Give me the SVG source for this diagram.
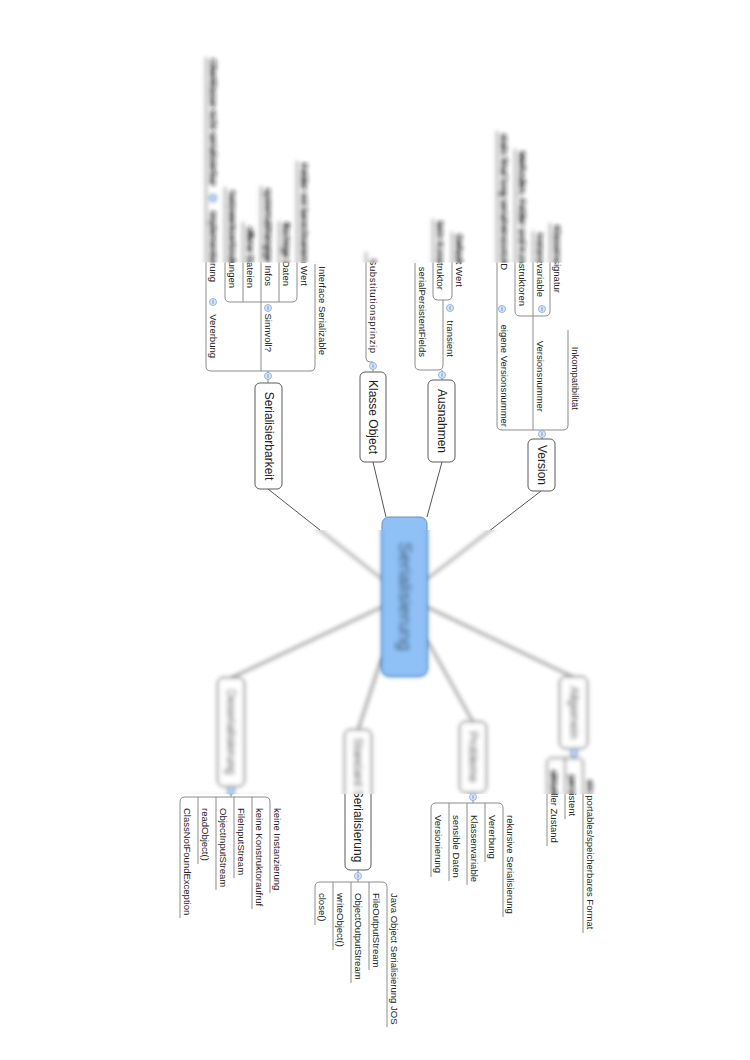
<svg xmlns="http://www.w3.org/2000/svg" xmlns:xlink="http://www.w3.org/1999/xlink" width="750" height="1060" viewBox="0 0 750 1060">
<defs>
<style>
.ln{fill:none;stroke:#8c8c8c;stroke-width:1}
.cn{fill:none;stroke:#555;stroke-width:1}
.box{fill:#fff;stroke:#5a5a5a;stroke-width:1}
.cbox{fill:#8fc1f7;stroke:#6d8fb8;stroke-width:1}
.t{font-family:"Liberation Sans",Arial,sans-serif;font-size:9.5px;fill:#222}
.tm{font-family:"Liberation Sans",Arial,sans-serif;font-size:12px;fill:#222}
.tc{font-family:"Liberation Sans",Arial,sans-serif;font-size:18px;fill:#2d3a50}
.tg circle{fill:#dbe7f7;stroke:#7ea6d8;stroke-width:0.8}
.tg path{stroke:#4f7fc0;stroke-width:0.8}
</style>
<filter id="blur" x="-10%" y="-10%" width="120%" height="120%"><feGaussianBlur stdDeviation="2.3"/><feComponentTransfer><feFuncA type="linear" slope="1.7"/></feComponentTransfer></filter>
<clipPath id="blurClip"><rect x="170" y="0" width="440" height="262.5"/><rect x="170" y="530" width="440" height="264"/></clipPath>
<g id="tgl" class="tg"><circle r="3.5"/><path d="M0,-1.8V1.8"/></g>
</defs>
<rect width="750" height="1060" fill="#fff"/>
<g id="diagram">
<g id="connectors">
<path class="cn" d="M268,489L382,579M373,462L386,517M442,462L427,517M541,491L427,579M382,607L231,678M382,657L358,730M427,640L473,722M427,607L573,677"/>
<path class="ln" d="M268,383V371M373,372V362H370Q366,362 366,358V252M442,380V370M542,439V430M231,786V797M358,870V882M473,792V803M574,748V758"/>
<path class="ln" d="M206,57V366Q206,371 211,371H310Q315,371 315,366V264M261,371V186"/>
<path class="ln" d="M225,187V297Q225,302 230,302H292Q297,302 297,297V161M243,302V222M279,302V221"/>
<path class="ln" d="M415,263V365Q415,370 420,370H438Q443,370 443,365V300"/>
<path class="ln" d="M433,219V295Q433,300 438,300H447Q452,300 452,295V232"/>
<path class="ln" d="M497,131V425Q497,430 502,430H563Q568,430 568,425V330M533,430V231"/>
<path class="ln" d="M515,149V311Q515,316 520,316H545Q550,316 550,311V223"/>
<path class="ln" d="M180,918V802Q180,797 185,797H265Q270,797 270,802V893M198,797V864M216,797V890M234,797V878M252,797V909"/>
<path class="ln" d="M315,925V887Q315,882 320,882H382Q387,882 387,887V1027M333,882V950M351,882V983M369,882V970"/>
<path class="ln" d="M431,877V808Q431,803 436,803H498Q503,803 503,808V917M449,803V881M467,803V885M485,803V862"/>
<path class="ln" d="M547,846V763Q547,758 552,758H578Q583,758 583,763V933M565,758V819"/>
</g>
<g id="node-center"><rect class="cbox" x="382" y="517" width="45" height="159" rx="7"/><text class="tc" text-anchor="middle" transform="translate(398.5,596.5) rotate(90)">Serialisierung</text></g>
<g id="node-serialisierbarkeit"><rect class="box" x="255" y="383" width="27" height="106" rx="5"/><text class="tm" text-anchor="middle" transform="translate(264.5,436) rotate(90)">Serialisierbarkeit</text><use xlink:href="#tgl" x="268" y="376"/></g>
<g id="node-interface"><text class="t" text-anchor="end" transform="translate(319,355) rotate(90)">Interface Serializable</text></g>
<g id="node-sinnvoll"><text class="t" text-anchor="end" transform="translate(265,352) rotate(90)">Sinnvoll?</text><use xlink:href="#tgl" x="268" y="308"/></g>
<g id="node-wert"><text class="t" text-anchor="end" transform="translate(301,286) rotate(90)">Felder mit berechnetem Wert</text></g>
<g id="node-daten"><text class="t" text-anchor="end" transform="translate(283,286) rotate(90)">flüchtige Daten</text></g>
<g id="node-infos"><text class="t" text-anchor="end" transform="translate(265,286) rotate(90)">systemabhängige Infos</text></g>
<g id="node-dateien"><text class="t" text-anchor="end" transform="translate(247,288) rotate(90)">offene Dateien</text></g>
<g id="node-verbindungen"><text class="t" text-anchor="end" transform="translate(229,288) rotate(90)">Netzwerkverbindungen</text></g>
<g id="node-vererbung1"><text class="t" text-anchor="end" transform="translate(210,358) rotate(90)">Vererbung</text><use xlink:href="#tgl" x="213" y="302"/></g>
<g id="node-implementierung"><text class="t" text-anchor="end" transform="translate(210,282) rotate(90)">Implementierung</text><use xlink:href="#tgl" x="213" y="198"/></g>
<g id="node-oberklasse"><text class="t" text-anchor="end" transform="translate(210,186) rotate(90)">Oberklasse nicht serialisierbar</text></g>
<g id="node-klasse-object"><rect class="box" x="360" y="372" width="26" height="90" rx="5"/><text class="tm" text-anchor="middle" transform="translate(369,417) rotate(90)">Klasse Object</text><use xlink:href="#tgl" x="373" y="366"/></g>
<g id="node-substitution"><text class="t" text-anchor="end" textLength="94" transform="translate(370,353) rotate(90)">Substitutionsprinzip</text></g>
<g id="node-ausnahmen"><rect class="box" x="428" y="380" width="27" height="82" rx="5"/><text class="tm" text-anchor="middle" transform="translate(437.5,421) rotate(90)">Ausnahmen</text><use xlink:href="#tgl" x="442" y="375"/></g>
<g id="node-spf"><text class="t" text-anchor="end" transform="translate(419,357) rotate(90)">serialPersistentFields</text></g>
<g id="node-transient"><text class="t" text-anchor="end" transform="translate(447,357) rotate(90)">transient</text><use xlink:href="#tgl" x="450" y="308"/></g>
<g id="node-konstruktor"><text class="t" text-anchor="end" transform="translate(437,290) rotate(90)">kein Konstruktor</text></g>
<g id="node-defaultwert"><text class="t" text-anchor="end" transform="translate(456,287) rotate(90)">Default Wert</text></g>
<g id="node-version"><rect class="box" x="528" y="439" width="27" height="52" rx="5"/><text class="tm" text-anchor="middle" transform="translate(537.5,465) rotate(90)">Version</text><use xlink:href="#tgl" x="542" y="434"/></g>
<g id="node-inkompatibilitaet"><text class="t" text-anchor="end" transform="translate(572,410) rotate(90)">Inkompatibilität</text></g>
<g id="node-versionsnummer"><text class="t" text-anchor="end" transform="translate(537,412) rotate(90)">Versionsnummer</text><use xlink:href="#tgl" x="542" y="309"/></g>
<g id="node-klassensignatur"><text class="t" text-anchor="end" transform="translate(554,293) rotate(90)">Klassensignatur</text></g>
<g id="node-instanzvariable"><text class="t" text-anchor="end" transform="translate(537,297) rotate(90)">Instanzvariable</text></g>
<g id="node-konstruktoren"><text class="t" text-anchor="end" transform="translate(519,306) rotate(90)">Methoden, Felder und Konstruktoren</text></g>
<g id="node-eigene"><text class="t" text-anchor="end" transform="translate(501,427) rotate(90)">eigene Versionsnummer</text><use xlink:href="#tgl" x="502" y="309"/></g>
<g id="node-uid"><text class="t" text-anchor="end" transform="translate(501,270) rotate(90)">static final long serialVersionUID</text></g>
<g id="node-deserialisierung"><rect class="box" x="218" y="678" width="26" height="108" rx="5"/><text class="tm" text-anchor="middle" transform="translate(227,732) rotate(90)">Deserialisierung</text><use xlink:href="#tgl" x="231" y="791"/></g>
<g id="node-d1"><text class="t" transform="translate(274,808) rotate(90)">keine Instanzierung</text></g>
<g id="node-d2"><text class="t" transform="translate(256,808) rotate(90)">keine Konstruktoraufruf</text></g>
<g id="node-d3"><text class="t" transform="translate(238,808) rotate(90)">FileInputStream</text></g>
<g id="node-d4"><text class="t" transform="translate(220,808) rotate(90)">ObjectInputStream</text></g>
<g id="node-d5"><text class="t" transform="translate(202,808) rotate(90)">readObject()</text></g>
<g id="node-d6"><text class="t" transform="translate(184,808) rotate(90)">ClassNotFoundException</text></g>
<g id="node-standard"><rect class="box" x="345" y="730" width="26" height="140" rx="5"/><text class="tm" text-anchor="middle" transform="translate(354,800) rotate(90)">Standard Serialisierung</text><use xlink:href="#tgl" x="358" y="876"/></g>
<g id="node-s1"><text class="t" transform="translate(391,893) rotate(90)">Java Object Serialisierung JOS</text></g>
<g id="node-s2"><text class="t" transform="translate(373,893) rotate(90)">FileOutputStream</text></g>
<g id="node-s3"><text class="t" transform="translate(355,893) rotate(90)">ObjectOutputStream</text></g>
<g id="node-s4"><text class="t" transform="translate(337,893) rotate(90)">writeObject()</text></g>
<g id="node-s5"><text class="t" transform="translate(319,893) rotate(90)">close()</text></g>
<g id="node-probleme"><rect class="box" x="460" y="722" width="26" height="70" rx="5"/><text class="tm" text-anchor="middle" transform="translate(469,757) rotate(90)">Probleme</text><use xlink:href="#tgl" x="473" y="797"/></g>
<g id="node-p1"><text class="t" transform="translate(507,815) rotate(90)">rekursive Serialisierung</text></g>
<g id="node-p2"><text class="t" transform="translate(489,815) rotate(90)">Vererbung</text></g>
<g id="node-p3"><text class="t" transform="translate(471,815) rotate(90)">Klassenvariable</text></g>
<g id="node-p4"><text class="t" transform="translate(453,815) rotate(90)">sensible Daten</text></g>
<g id="node-p5"><text class="t" transform="translate(435,815) rotate(90)">Versionierung</text></g>
<g id="node-allgemein"><rect class="box" x="560" y="677" width="27" height="71" rx="5"/><text class="tm" text-anchor="middle" transform="translate(569.5,712.5) rotate(90)">Allgemein</text><use xlink:href="#tgl" x="574" y="753"/></g>
<g id="node-a1"><text class="t" transform="translate(587,780) rotate(90)">ein portables/speicherbares Format</text></g>
<g id="node-a2"><text class="t" transform="translate(569,775) rotate(90)">persistent</text></g>
<g id="node-a3"><text class="t" transform="translate(551,770) rotate(90)">aktueller Zustand</text></g>
</g>
<g id="blur-overlay" clip-path="url(#blurClip)">
<rect width="750" height="1060" fill="#fff"/>
<use xlink:href="#diagram" filter="url(#blur)"/>
</g>
</svg>
